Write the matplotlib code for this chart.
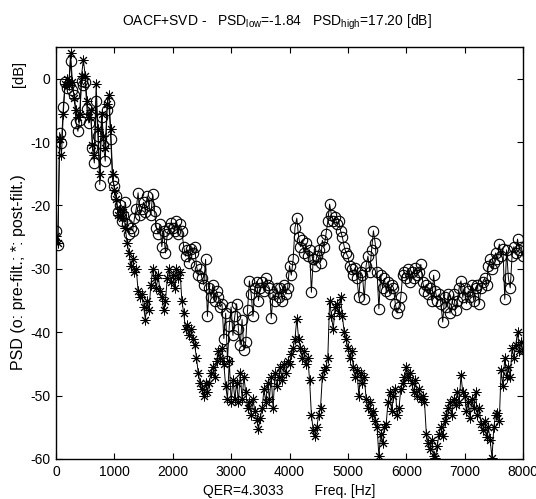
import numpy as np
import matplotlib
matplotlib.use("Agg")
import matplotlib.pyplot as plt

plt.rcParams['font.family'] = ['Liberation Sans', 'DejaVu Sans']
plt.rcParams['mathtext.fontset'] = 'custom'
plt.rcParams['mathtext.rm'] = 'Liberation Sans'
plt.rcParams['mathtext.it'] = 'Liberation Sans'

# Frequency bins (31.25 Hz spacing, 0..8000 Hz)
freq_step = 31.25
n_bins = 257

# PSD before filtering [dB]
psd_pre = [
    -24.0, -26.2, -8.5, -10.2, -4.5, -0.5, -1.5, -0.8, 2.8, -1.8, -2.5, -7.0, -8.3, -6.5, -0.3, -1.0,
    -0.5, -4.8, -7.0, -5.5, -11.0, -13.3, -3.5, -9.0, -16.7, -6.0, -10.5, -13.0, -5.0, -3.8, -9.5, -16.0,
    -17.0, -18.5, -21.0, -20.0, -22.5, -21.5, -19.5, -23.0, -24.5, -23.5, -24.0, -22.0, -20.5, -18.0, -21.5, -20.5,
    -19.5, -21.0, -18.5, -20.0, -21.5, -18.2, -20.8, -23.5, -24.5, -23.0, -26.5, -24.0, -27.5, -24.5, -23.5, -22.8,
    -23.5, -24.0, -22.5, -24.5, -23.0, -24.0, -26.5, -28.0, -27.0, -29.0, -26.8, -27.5, -26.5, -29.5, -31.0, -30.0,
    -31.5, -32.5, -28.5, -37.5, -33.0, -34.5, -32.5, -35.0, -33.5, -34.5, -36.0, -35.5, -41.0, -37.0, -44.5, -39.0,
    -36.0, -40.5, -37.5, -35.5, -39.5, -42.0, -38.0, -42.8, -41.5, -36.5, -31.9, -34.0, -37.5, -33.0, -32.0, -35.0,
    -33.0, -32.0, -33.5, -31.5, -32.5, -33.0, -37.8, -34.0, -35.0, -33.0, -34.5, -33.0, -35.0, -32.5, -34.0, -33.0,
    -29.5, -31.0, -28.5, -23.5, -22.0, -25.0, -26.5, -25.5, -27.5, -26.0, -28.0, -27.0, -33.7, -28.5, -29.5, -28.0,
    -27.0, -29.0, -25.5, -26.5, -24.5, -22.5, -19.8, -21.5, -22.5, -21.8, -23.0, -22.5, -24.0, -25.0, -26.5, -27.5,
    -28.0, -29.5, -30.0, -31.0, -29.8, -31.5, -34.5, -30.5, -31.0, -34.8, -29.5, -28.0, -30.5, -27.0, -24.0, -26.0,
    -30.5, -36.3, -31.0, -33.0, -31.5, -33.5, -32.0, -34.0, -32.5, -33.0, -35.5, -37.0, -36.0, -34.5, -31.0, -30.5,
    -31.5, -30.0, -32.0, -30.5, -31.5, -29.8, -31.0, -30.5, -29.3, -32.0, -33.5, -32.5, -34.0, -33.0, -35.0, -31.0,
    -33.5, -35.0, -34.0, -35.5, -38.4, -34.5, -36.0, -34.0, -37.0, -35.5, -34.0, -36.5, -35.0, -33.0, -31.9, -34.5,
    -33.0, -35.5, -33.5, -34.5, -32.5, -35.0, -33.0, -32.5, -35.5, -33.0, -32.0, -31.5, -32.5, -29.5, -28.5, -30.0,
    -29.0, -27.5, -28.5, -26.1, -28.0, -26.8, -34.8, -27.0, -31.5, -33.0, -28.0, -26.5, -27.5, -25.3, -27.0, -26.5,
    -28.0,
]

# PSD after filtering [dB]
psd_post = [
    -24.8, -26.0, -9.5, -12.0, -5.5, -0.8, 0.0, -1.0, 4.0, -0.5, -3.0, -5.0, -6.0, -5.5, 0.5, 3.0,
    0.5, -3.5, -6.0, -5.0, -10.5, -12.0, -0.9, -8.0, -15.0, -5.5, -9.0, -11.0, -4.0, -2.6, -8.0, -15.0,
    -17.5, -19.0, -21.5, -20.5, -22.0, -21.0, -23.5, -26.0, -27.5, -29.5, -28.5, -30.5, -30.0, -33.5, -34.5, -34.0,
    -36.0, -38.0, -35.0, -36.5, -32.5, -30.0, -31.5, -33.0, -31.0, -33.5, -34.5, -36.5, -35.0, -31.5, -30.0, -32.0,
    -31.0, -33.0, -30.0, -31.5, -30.5, -35.0, -37.0, -39.5, -38.8, -40.5, -39.5, -41.0, -42.0, -44.0, -46.5, -48.0,
    -49.0, -50.0, -48.0, -49.5, -48.0, -46.5, -45.5, -47.0, -44.5, -43.0, -44.0, -42.5, -45.0, -48.5, -50.5, -44.5,
    -51.0, -47.5, -50.5, -48.0, -51.0, -46.5, -50.5, -47.0, -49.5, -52.0, -51.0, -53.0, -50.5, -52.5, -53.8, -55.2,
    -53.5, -52.0, -49.0, -51.0, -48.0, -50.5, -47.0, -52.0, -46.5, -48.5, -47.0, -45.5, -47.5, -45.0, -46.5, -44.5,
    -45.0, -43.5, -42.5, -41.0, -37.9, -41.0, -42.5, -44.0, -43.0, -45.0, -44.0, -47.5, -53.0, -55.5, -56.4, -55.0,
    -53.0, -52.0, -47.0, -46.0, -45.5, -44.0, -35.0, -37.5, -39.5, -36.0, -35.5, -37.0, -34.5, -37.5, -40.0, -41.0,
    -42.5, -44.0, -43.0, -45.5, -47.0, -46.0, -50.0, -46.5, -48.0, -47.0, -50.5, -52.0, -51.0, -53.0, -52.5, -54.0,
    -55.0, -59.5, -56.0, -57.5, -55.0, -54.5, -51.0, -49.5, -52.5, -50.0, -49.0, -53.0, -52.0, -49.0, -48.0, -47.0,
    -45.5, -47.0, -46.5, -48.0, -49.5, -47.5, -50.0, -49.0, -50.5, -50.0, -51.0, -56.0, -57.5, -58.5, -57.0, -59.5,
    -59.8, -58.0, -56.0, -55.0, -56.4, -54.0, -53.0, -52.0, -51.0, -53.0, -50.5, -51.5, -49.5, -51.0, -46.8, -49.5,
    -50.0, -52.5, -51.0, -53.5, -50.5, -52.0, -49.5, -53.0, -52.0, -54.5, -55.5, -54.0, -56.5, -55.0, -57.0, -59.8,
    -55.0, -53.0, -52.8, -54.0, -46.0, -48.5, -44.0, -47.0, -45.5, -47.0, -42.5, -44.0, -42.0, -40.0, -43.0, -41.5,
    -43.0,
]

freqs = np.arange(n_bins) * freq_step

title_text = r"OACF+SVD -   PSD$_{\mathrm{low}}$=-1.84   PSD$_{\mathrm{high}}$=17.20 [dB]"
xlabel_text = "QER=4.3033        Freq. [Hz]"
ylabel_text = "PSD (o: pre-filt.; *: post-filt.)"
yunit_text = "[dB]"
xticks = [0, 1000, 2000, 3000, 4000, 5000, 6000, 7000, 8000]
yticks = [0, -10, -20, -30, -40, -50, -60]

W, H = 536, 499
fig = plt.figure(figsize=(W / 100, H / 100), dpi=100)
ax = fig.add_axes([56 / W, 1 - 459 / H, (523 - 56) / W, (459 - 47) / H])

ax.plot(freqs, psd_pre, color='k', lw=0.7, marker='o', ms=7.5, mfc='none',
        mec='k', mew=0.8)
ax.plot(freqs, psd_post, color='k', lw=0.7, marker=(8, 2, 0), ms=7,
        mec='k', mew=0.7)

ax.set_xlim(0, 8000)
ax.set_ylim(-60, 5)
ax.set_xticks(xticks)
ax.set_yticks(yticks)
ax.set_xticklabels([str(t) for t in xticks])
ax.set_yticklabels([str(t) for t in yticks])
ax.tick_params(direction='in', top=True, right=True, length=4, width=0.8,
               labelsize=10, pad=4)
for s in ax.spines.values():
    s.set_linewidth(1.0)

fig.text(277 / W, 1 - 22 / H, title_text, ha='center', va='center', fontsize=10)
fig.text((56 + 523) / 2 / W, 1 - 491 / H, xlabel_text, ha='center', va='center',
         fontsize=10)
fig.text(19 / W, 1 - 272 / H, ylabel_text, ha='center', va='center',
         rotation=90, fontsize=11.5)
fig.text(19 / W, 1 - 74 / H, yunit_text, ha='center', va='center',
         rotation=90, fontsize=10.5)

fig.savefig("out.png", dpi=100, facecolor='white')
